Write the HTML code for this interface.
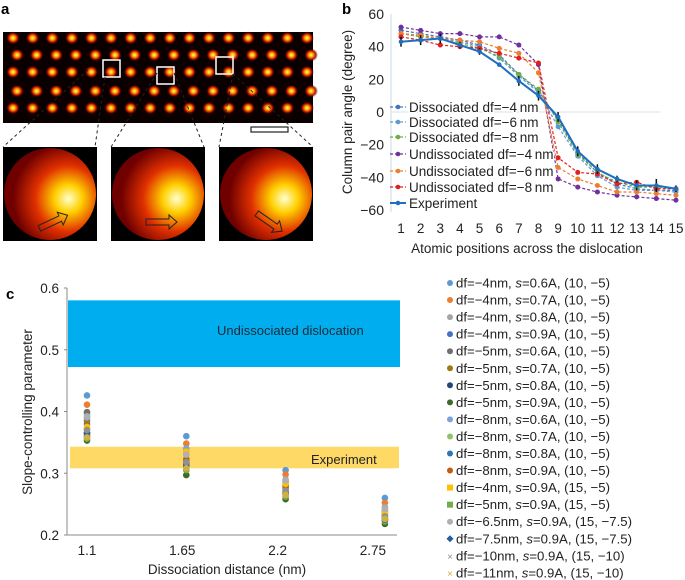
<!DOCTYPE html>
<html><head><meta charset="utf-8"><style>
body{margin:0;background:#fff;width:685px;height:580px;overflow:hidden;font-family:"Liberation Sans",sans-serif}
svg{position:absolute;left:0;top:0}
</style></head><body>
<svg id="s" width="685" height="580">
<defs>
<radialGradient id="atom"><stop offset="0" stop-color="#ffff80"/><stop offset="0.3" stop-color="#ffb000"/><stop offset="0.65" stop-color="#c01000"/><stop offset="1" stop-color="#200000" stop-opacity="0"/></radialGradient>
<radialGradient id="big" cx="0.7" cy="0.55" r="0.6"><stop offset="0" stop-color="#ffffd0"/><stop offset="0.25" stop-color="#ffd000"/><stop offset="0.6" stop-color="#e03000"/><stop offset="1" stop-color="#700000"/></radialGradient>
</defs>
<g id="pa"></g>
<g id="pb"></g>
<g id="pc"></g>
</svg>
<script>
// Panel b data
const positions=[1,2,3,4,5,6,7,8,9,10,11,12,13,14,15];
const bYTicks=[60,40,20,0,-20,-40,-60];
const dissM4=[50,48,46,44,41,35,23,13,-5,-25,-37,-44,-47,-48,-48];
const dissM6=[48,47,45,43,40,33,22,12,-9,-27,-39,-46,-48,-48,-49];
const dissM8=[48,46,45,42,39,34,23,14,-6,-26,-37,-43,-46,-46,-47];
const undM4=[52,50,48,48,46,46,41,29,-41,-46,-49,-51,-52,-53,-54];
const undM6=[48,47,45,44,43,39,36,24,-34,-41,-45,-49,-49,-50,-51];
const undM8=[46,44,41,40,39,36,33,30,-28,-37,-38,-44,-43,-47,-47];
const experiment=[43,44,45,41,37,29,19,10,-3,-24,-35,-41,-45,-45,-47];
const expErr=[3,3,3,2,2,1,3,3,3,3,3,2,3,4,2];
const bNames=["Dissociated df=\u22124\u2009nm","Dissociated df=\u22126\u2009nm","Dissociated df=\u22128\u2009nm","Undissociated df=\u22124\u2009nm","Undissociated df=\u22126\u2009nm","Undissociated df=\u22128\u2009nm","Experiment"];
// Panel c data
const distances=["1.1","1.65","2.2","2.75"];
const cYTicks=[0.6,0.5,0.4,0.3,0.2];
const cLabels=["df=\u22124nm, |s|=0.6A, (10, \u22125)","df=\u22124nm, |s|=0.7A, (10, \u22125)","df=\u22124nm, |s|=0.8A, (10, \u22125)","df=\u22124nm, |s|=0.9A, (10, \u22125)","df=\u22125nm, |s|=0.6A, (10, \u22125)","df=\u22125nm, |s|=0.7A, (10, \u22125)","df=\u22125nm, |s|=0.8A, (10, \u22125)","df=\u22125nm, |s|=0.9A, (10, \u22125)","df=\u22128nm, |s|=0.6A, (10, \u22125)","df=\u22128nm, |s|=0.7A, (10, \u22125)","df=\u22128nm, |s|=0.8A, (10, \u22125)","df=\u22128nm, |s|=0.9A, (10, \u22125)","df=\u22124nm, |s|=0.9A, (15, \u22125)","df=\u22125nm, |s|=0.9A, (15, \u22125)","df=\u22126.5nm, |s|=0.9A, (15, \u22127.5)","df=\u22127.5nm, |s|=0.9A, (15, \u22127.5)","df=\u221210nm, |s|=0.9A, (15, \u221210)","df=\u221211nm, |s|=0.9A, (15, \u221210)"];
const cColors=["#5b9bd5","#ed7d31","#a5a5a5","#4472c4","#707070","#9e7a10","#264478","#43682b","#7ca2dc","#8fc464","#2e75b6","#c55a11","#ffc000","#70ad47","#b0b0b0","#2060a0","#909090","#d0b040"];
const s1=[0.426,0.360,0.305,0.260];
const s2=[0.411,0.348,0.298,0.252];
const s3=[0.395,0.330,0.290,0.245];
const s4=[0.380,0.318,0.275,0.232];
const s5=[0.399,0.335,0.287,0.238];
const s6=[0.385,0.323,0.280,0.235];
const s7=[0.366,0.316,0.266,0.228];
const s8=[0.353,0.297,0.258,0.218];
const s9=[0.390,0.340,0.285,0.240];
const s10=[0.372,0.310,0.276,0.230];
const s11=[0.360,0.316,0.270,0.226];
const s12=[0.362,0.320,0.278,0.224];
const s13=[0.375,0.335,0.283,0.236];
const s14=[0.356,0.305,0.262,0.222];
const s15=[0.392,0.330,0.288,0.242];
const s16=[0.365,0.312,0.268,0.225];
const s17=[0.370,0.318,0.272,0.230];
const s18=[0.358,0.308,0.265,0.226];
const cSeries=[s1,s2,s3,s4,s5,s6,s7,s8,s9,s10,s11,s12,s13,s14,s15,s16,s17,s18];

const NS="http://www.w3.org/2000/svg";
function mk(p,t,a,txt){const e=document.createElementNS(NS,t);for(const k in a)e.setAttribute(k,a[k]);if(txt!=null)e.textContent=txt;p.appendChild(e);return e;}

// ---------- Panel a ----------
const pa=document.getElementById('pa');
let t=mk(pa,'text',{x:1,y:14,'font-size':15,'font-weight':'bold'},'a');


let r=mk(pa,'rect',{x:3,y:32,width:310,height:91,fill:'#0a0000'});


const rowsY=[38,55,72,91,108];
for(let ri=0;ri<5;ri++){for(let c=0;c<16;c++){const cx=13+c*19.6+(ri%2?4:0);mk(pa,'ellipse',{cx:cx,cy:rowsY[ri],rx:7,ry:6.5,fill:'url(#atom)'});}}
[[103,60],[157,67],[216,57]].forEach((b,i)=>{let q=mk(pa,'rect',{x:b[0],y:b[1],width:17,height:17,fill:'none',stroke:'#fff','stroke-width':1.5});});
[[88,70,3,147],[105,77,95,147],[157,73,111,147],[174,73,204,147],[233,74,219,147],[233,74,313,147]].forEach(l=>mk(pa,'line',{x1:l[0],y1:l[1],x2:l[2],y2:l[3],stroke:'#222','stroke-dasharray':'3,3'}));
let sb=mk(pa,'rect',{x:251,y:127,width:37,height:5,fill:'#fff',stroke:'#222','stroke-width':1.2});


[3,111,219].forEach((x0,i)=>{
 const g=mk(pa,'g',{});
 
 
 mk(g,'rect',{x:x0,y:147,width:94,height:94,fill:'#000'});
 mk(g,'circle',{cx:x0+47,cy:194,r:46,fill:'url(#big)'});
 const ang=[-25,0,35][i];
 mk(g,'path',{d:'M-15,-3 L8,-3 L8,-7 L16,0 L8,7 L8,3 L-15,3 Z',fill:'none',stroke:'#222','stroke-width':1,transform:`translate(${x0+50},${222}) rotate(${ang})`});
});

// ---------- Panel b ----------
const pb=document.getElementById('pb');
const bx=i=>401+(i-1)*19.64, by=v=>112-v*1.633;
t=mk(pb,'text',{x:342,y:14,'font-size':15,'font-weight':'bold'},'b');


mk(pb,'line',{x1:391,y1:14,x2:391,y2:212,stroke:'#c8d8e8'});
mk(pb,'line',{x1:391,y1:by(0),x2:660,y2:by(0),stroke:'#d8e0e8'});
bYTicks.forEach(v=>{let e=mk(pb,'text',{x:384,y:by(v)+5,'font-size':14,'text-anchor':'end',fill:'#222'},String(v).replace('-','\u2212'));});
positions.forEach(p=>{let e=mk(pb,'text',{x:bx(p),y:233,'font-size':13.5,'text-anchor':'middle',fill:'#222'},p);});
t=mk(pb,'text',{x:527,y:253,'font-size':13.5,'text-anchor':'middle',fill:'#222'},'Atomic positions across the dislocation');


t=mk(pb,'text',{x:0,y:0,'font-size':13.5,'text-anchor':'middle',fill:'#222',transform:'translate(352,112) rotate(-90)'},'Column pair angle (degree)');


const bSeries=[dissM4,dissM6,dissM8,undM4,undM6,undM8,experiment];
const bColors=['#4472c4','#5b9bd5','#70ad47','#7030a0','#ed7d31','#e02020','#1f6fc0'];
bSeries.forEach((s,k)=>{
 const g=mk(pb,'g',{});
 
 
 const exp=k==6;
 mk(g,'polyline',{points:s.map((v,i)=>bx(positions[i])+','+by(v)).join(' '),fill:'none',stroke:bColors[k],'stroke-width':exp?2:1.2,'stroke-dasharray':exp?'none':'3,2'});
 s.forEach((v,i)=>{
  if(exp){mk(g,'line',{x1:bx(positions[i]),x2:bx(positions[i]),y1:by(v+expErr[i]),y2:by(v-expErr[i]),stroke:'#111','stroke-width':1.5});}
  mk(g,'circle',{cx:bx(positions[i]),cy:by(v),r:exp?2.3:2.5,fill:bColors[k]});
 });
});
const legY=[107,122,137,154,171,187,203];
bNames.forEach((n,k)=>{
 const g=mk(pb,'g',{});
 
 
 mk(g,'line',{x1:390,x2:406,y1:legY[k],y2:legY[k],stroke:bColors[k],'stroke-width':k==6?2:1.2,'stroke-dasharray':k==6?'none':'3,2'});
 mk(g,'circle',{cx:398,cy:legY[k],r:2.3,fill:bColors[k]});
 mk(g,'text',{x:409,y:legY[k]+5,'font-size':13.5,fill:'#222',stroke:'#fff','stroke-width':3,'paint-order':'stroke'},n);
});

// ---------- Panel c ----------
const pc=document.getElementById('pc');
const cx=i=>87+i*99.3, cy=v=>535-(v-0.2)*617.5;
t=mk(pc,'text',{x:6,y:299,'font-size':15,'font-weight':'bold'},'c');


r=mk(pc,'rect',{x:68,y:cy(0.58),width:332,height:cy(0.472)-cy(0.58),fill:'#00aeef'});


r=mk(pc,'rect',{x:70,y:cy(0.343),width:329,height:cy(0.308)-cy(0.343),fill:'#ffd966'});


mk(pc,'text',{x:217,y:335,'font-size':13,fill:'#1a2a3a'},'Undissociated dislocation');
mk(pc,'text',{x:311,y:464,'font-size':13,fill:'#222'},'Experiment');
mk(pc,'line',{x1:67,y1:288,x2:67,y2:535,stroke:'#888'});
mk(pc,'line',{x1:67,y1:535,x2:397,y2:535,stroke:'#888'});
cYTicks.forEach(v=>{mk(pc,'line',{x1:64,x2:67,y1:cy(v),y2:cy(v),stroke:'#888'});let e=mk(pc,'text',{x:59,y:cy(v)+5,'font-size':13.5,'text-anchor':'end',fill:'#222'},v.toFixed(1));});
distances.forEach((d,i)=>{let e=mk(pc,'text',{x:cx(i)-4*i,y:555,'font-size':13.5,'text-anchor':'middle',fill:'#222'},d);});
t=mk(pc,'text',{x:227,y:574,'font-size':13.5,'text-anchor':'middle',fill:'#222'},'Dissociation distance (nm)');


t=mk(pc,'text',{x:0,y:0,'font-size':13.5,'text-anchor':'middle',fill:'#222',transform:'translate(32,412) rotate(-90)'},'Slope-controlling parameter');


cSeries.forEach((s,k)=>{
 const g=mk(pc,'g',{});
 
 
 s.forEach((v,i)=>mk(g,'circle',{cx:cx(i),cy:cy(v),r:3.3,fill:cColors[k]}));
});
cLabels.forEach((lab,k)=>{
 const y=283+k*17.05;
 const g=mk(pc,'g',{});
 
 
 if(k==12||k==13) mk(g,'rect',{x:447,y:y-3,width:6,height:6,fill:cColors[k]});
 else if(k>=16) mk(g,'text',{x:450,y:y+4,'font-size':10,'text-anchor':'middle',fill:cColors[k]},'\u00d7');
 else if(k==15) mk(g,'path',{d:`M450,${y-3.5} L453.5,${y} L450,${y+3.5} L446.5,${y} Z`,fill:cColors[k]});
 else mk(g,'circle',{cx:450,cy:y,r:3,fill:cColors[k]});
 const parts=lab.split('|');
 const tx=mk(g,'text',{x:456,y:y+4.5,'font-size':13.2,fill:'#222'});
 mk(tx,'tspan',{},parts[0]);mk(tx,'tspan',{'font-style':'italic'},parts[1]);mk(tx,'tspan',{},parts[2]);
});
</script>
</body></html>
